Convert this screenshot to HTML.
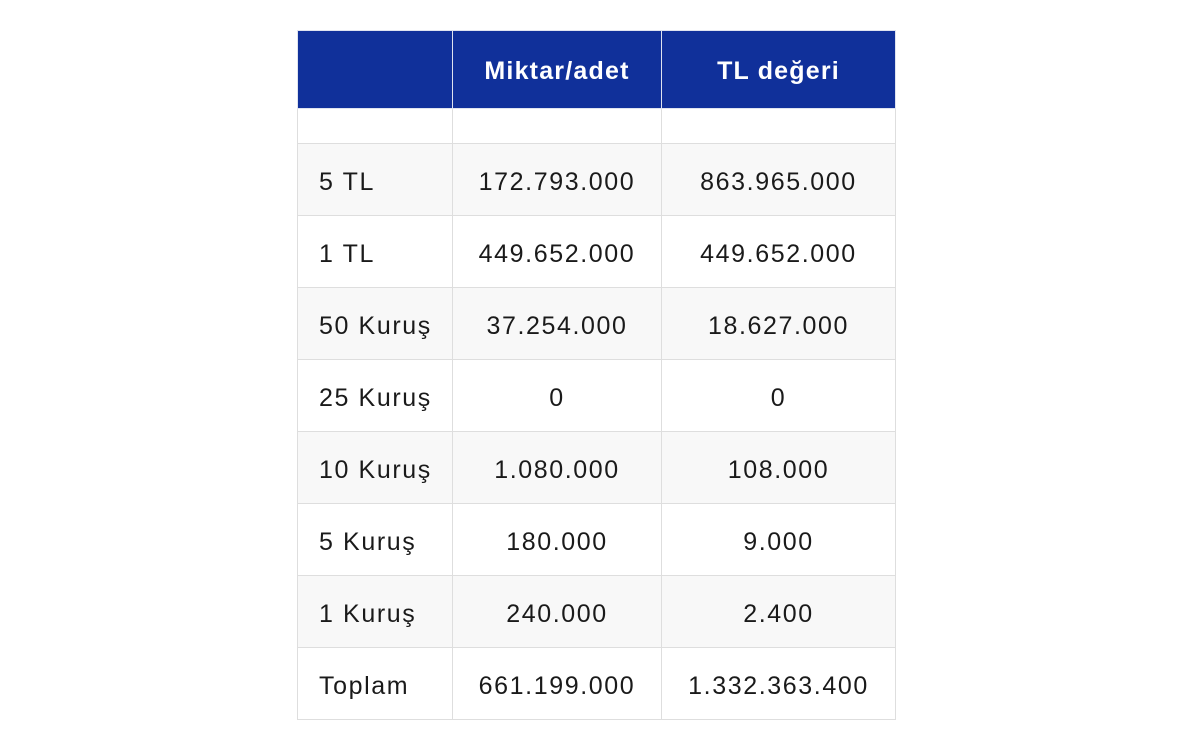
<!DOCTYPE html><html><head><style>
body{margin:0;width:1200px;height:738px;background:#fff;font-family:"Liberation Sans",sans-serif;position:relative;overflow:hidden}
table{position:absolute;left:297px;top:30px;border-collapse:collapse;color:#1a1a1a;font-size:25px;letter-spacing:1.6px}
td,th{border:1px solid #dedede;padding:0;text-align:center}
th{background:#10309a;color:#fff;font-weight:bold;height:74px;padding-top:3px;border-color:#dfe3ef;font-size:25px;letter-spacing:1.2px}
td{height:65px;padding-top:6px}
td:first-child{text-align:left;padding-left:21px}
tr.g td{background:#f8f8f8}
</style></head><body>
<table>
<colgroup><col style="width:155px"><col style="width:209px"><col style="width:234px"></colgroup>
<tr><th></th><th>Miktar/adet</th><th>TL değeri</th></tr>
<tr><td style="height:34px;padding:0"></td><td style="height:34px;padding:0"></td><td style="height:34px;padding:0"></td></tr>
<tr class="g"><td>5 TL</td><td>172.793.000</td><td>863.965.000</td></tr>
<tr><td>1 TL</td><td>449.652.000</td><td>449.652.000</td></tr>
<tr class="g"><td>50 Kuruş</td><td>37.254.000</td><td>18.627.000</td></tr>
<tr><td>25 Kuruş</td><td>0</td><td>0</td></tr>
<tr class="g"><td>10 Kuruş</td><td>1.080.000</td><td>108.000</td></tr>
<tr><td>5 Kuruş</td><td>180.000</td><td>9.000</td></tr>
<tr class="g"><td>1 Kuruş</td><td>240.000</td><td>2.400</td></tr>
<tr><td>Toplam</td><td>661.199.000</td><td>1.332.363.400</td></tr>
</table>
</body></html>
